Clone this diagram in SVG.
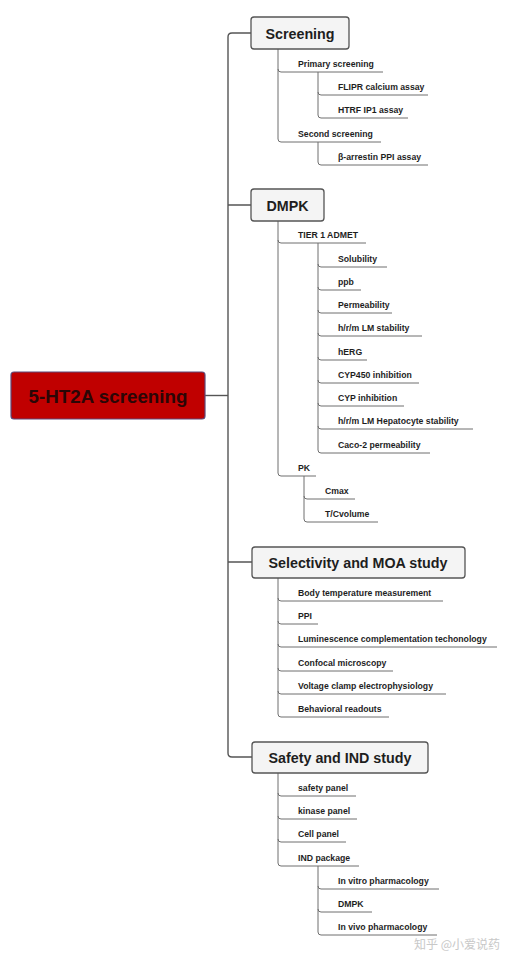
<svg xmlns="http://www.w3.org/2000/svg" width="508" height="953" viewBox="0 0 508 953">
<style>
.bg{fill:#ffffff}
.c{fill:none;stroke:#555;stroke-width:1.4}
.u{fill:none;stroke:#6f6f6f;stroke-width:1}
.hb{fill:#f4f4f4;stroke:#555;stroke-width:1.3}
.h{font-family:"Liberation Sans",Arial,sans-serif;font-weight:bold;font-size:14.3px;fill:#1e1e1e;text-anchor:middle}
.t{font-family:"Liberation Sans",Arial,sans-serif;font-weight:bold;font-size:8.7px;fill:#1e1e1e}
.wm{font-family:"Noto Sans CJK SC","Liberation Sans",sans-serif;font-size:12px;fill:#c8c8c8}
</style>
<rect class="bg" x="0" y="0" width="508" height="953"/>
<g id="connectors">
<path class="c" d="M205 395.5H228"/>
<path class="c" d="M251 33H232Q228 33 228 37V753Q228 757 232 757H252"/>
<path class="c" d="M228 205H251M228 562H252"/>
<path class="u" d="M278 49V139Q278 142 281 142H381M278 69Q278 72 281 72H383"/>
<path class="u" d="M318 72V115Q318 118 321 118H408M318 92Q318 95 321 95H428"/>
<path class="u" d="M318 142V162Q318 165 321 165H428"/>
<path class="u" d="M278 221V473Q278 476 281 476H316M278 240Q278 243 281 243H366"/>
<path class="u" d="M318 243V450Q318 453 321 453H430M318 264Q318 267 321 267H387M318 287Q318 290 321 290H361M318 310Q318 313 321 313H392M318 333Q318 336 321 336H422M318 357Q318 360 321 360H367M318 380Q318 383 321 383H419M318 403Q318 406 321 406H404M318 426Q318 429 321 429H473"/>
<path class="u" d="M304 476V519Q304 522 307 522H378M304 496Q304 499 307 499H355"/>
<path class="u" d="M278 578V714Q278 717 281 717H389M278 598Q278 601 281 601H443M278 621Q278 624 281 624H318M278 644Q278 647 281 647H497M278 668Q278 671 281 671H393M278 691Q278 694 281 694H446"/>
<path class="u" d="M278 773V863Q278 866 281 866H359M278 793Q278 796 281 796H356M278 816Q278 819 281 819H357M278 839Q278 842 281 842H346"/>
<path class="u" d="M318 866V932Q318 935 321 935H437M318 886Q318 889 321 889H439M318 909Q318 912 321 912H372"/>
</g>
<g id="root">
<rect x="11" y="372" width="194" height="47" rx="3" fill="#c00000" stroke="#5e4878" stroke-width="1.2"/>
<text x="108" y="403" font-family="Liberation Sans,Arial,sans-serif" font-weight="bold" font-size="18.8" fill="#2a0606" text-anchor="middle">5-HT2A screening</text>
</g>
<g id="screening">
<rect class="hb" x="251" y="17" width="98" height="32" rx="3"/>
<text class="h" x="300" y="38.5">Screening</text>
</g>
<g id="primary-screening"><text class="t" x="298" y="66.5">Primary screening</text></g>
<g id="flipr"><text class="t" x="338" y="89.5">FLIPR calcium assay</text></g>
<g id="htrf"><text class="t" x="338" y="112.5">HTRF IP1 assay</text></g>
<g id="second-screening"><text class="t" x="298" y="136.5">Second screening</text></g>
<g id="arrestin"><text class="t" x="338" y="159.5">β-arrestin PPI assay</text></g>
<g id="dmpk">
<rect class="hb" x="251" y="189" width="73" height="32" rx="3"/>
<text class="h" x="287.5" y="210.5">DMPK</text>
</g>
<g id="tier1"><text class="t" x="298" y="237.5">TIER 1 ADMET</text></g>
<g id="solubility"><text class="t" x="338" y="261.5">Solubility</text></g>
<g id="ppb"><text class="t" x="338" y="284.5">ppb</text></g>
<g id="permeability"><text class="t" x="338" y="307.5">Permeability</text></g>
<g id="lm-stability"><text class="t" x="338" y="330.5">h/r/m LM stability</text></g>
<g id="herg"><text class="t" x="338" y="354.5">hERG</text></g>
<g id="cyp450"><text class="t" x="338" y="377.5">CYP450 inhibition</text></g>
<g id="cyp"><text class="t" x="338" y="400.5">CYP inhibition</text></g>
<g id="hepatocyte"><text class="t" x="338" y="423.5">h/r/m LM Hepatocyte stability</text></g>
<g id="caco2"><text class="t" x="338" y="447.5">Caco-2 permeability</text></g>
<g id="pk"><text class="t" x="298" y="470.5">PK</text></g>
<g id="cmax"><text class="t" x="325" y="493.5">Cmax</text></g>
<g id="tcvolume"><text class="t" x="325" y="516.5">T/Cvolume</text></g>
<g id="selectivity">
<rect class="hb" x="252" y="547" width="213" height="31" rx="3"/>
<text class="h" x="358" y="567.5">Selectivity and MOA study</text>
</g>
<g id="body-temp"><text class="t" x="298" y="595.5">Body temperature measurement</text></g>
<g id="ppi"><text class="t" x="298" y="618.5">PPI</text></g>
<g id="luminescence"><text class="t" x="298" y="641.5">Luminescence complementation techonology</text></g>
<g id="confocal"><text class="t" x="298" y="665.5">Confocal microscopy</text></g>
<g id="voltage-clamp"><text class="t" x="298" y="688.5">Voltage clamp electrophysiology</text></g>
<g id="behavioral"><text class="t" x="298" y="711.5">Behavioral readouts</text></g>
<g id="safety">
<rect class="hb" x="252" y="742" width="176" height="31" rx="3"/>
<text class="h" x="340" y="762.5">Safety and IND study</text>
</g>
<g id="safety-panel"><text class="t" x="298" y="790.5">safety panel</text></g>
<g id="kinase-panel"><text class="t" x="298" y="813.5">kinase panel</text></g>
<g id="cell-panel"><text class="t" x="298" y="836.5">Cell panel</text></g>
<g id="ind-package"><text class="t" x="298" y="860.5">IND package</text></g>
<g id="in-vitro"><text class="t" x="338" y="883.5">In vitro pharmacology</text></g>
<g id="ind-dmpk"><text class="t" x="338" y="906.5">DMPK</text></g>
<g id="in-vivo"><text class="t" x="338" y="929.5">In vivo pharmacology</text></g>
<text class="wm" x="414" y="949">知乎 @小爱说药</text>
</svg>
